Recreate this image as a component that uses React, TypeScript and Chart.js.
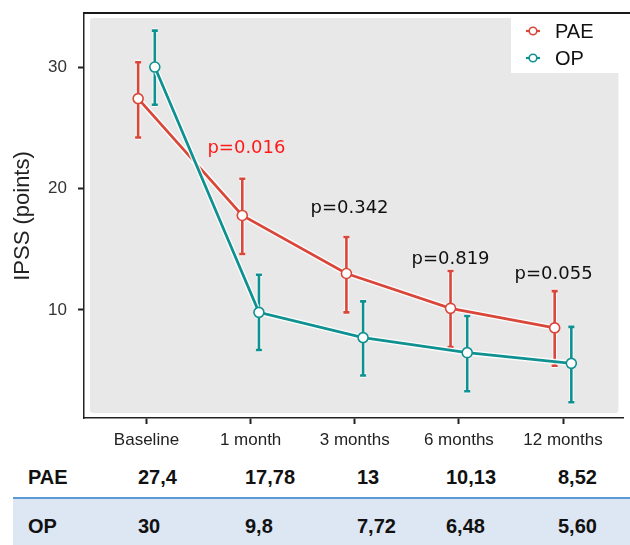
import React, { useEffect, useRef } from 'react';
import { Chart, registerables } from 'chart.js';

Chart.register(...registerables);

const categories = ['Baseline', '1 month', '3 months', '6 months', '12 months'];
const paeMean = [27.4, 17.78, 13, 10.13, 8.52];
const paeUpper = [30.4, 20.8, 16.0, 13.2, 11.55];
const paeLower = [24.2, 14.6, 9.8, 6.95, 5.4];
const opMean = [30, 9.8, 7.72, 6.48, 5.6];
const opUpper = [33.0, 12.9, 10.7, 9.5, 8.6];
const opLower = [26.9, 6.7, 4.6, 3.3, 2.4];
const yTicks = [10, 20, 30];
const seriesNames = ['PAE', 'OP'];
const paeTable = ['27,4', '17,78', '13', '10,13', '8,52'];
const opTable = ['30', '9,8', '7,72', '6,48', '5,60'];
const pLabels = ['p=0.016', 'p=0.342', 'p=0.819', 'p=0.055'];
const pLabelX = [0.96, 1.95, 2.92, 3.91];
const pLabelY = [23.3, 18.4, 14.2, 12.96];
const pLabelColors = ['#ff1a1a', '#111111', '#111111', '#111111'];

const RED = '#d9473b';
const TEAL = '#0f9191';
const OFFSET = 0.08;
const FONT = '"Liberation Sans", Arial, sans-serif';

const tableCols = [138, 245, 357, 446, 558];

function pts(vals: number[], off: number) {
  return vals.map((v, i) => ({ x: i + off, y: v }));
}

const decor = {
  id: 'decor',
  beforeDatasetsDraw(chart: any) {
    const { ctx, chartArea: a, scales } = chart;
    const x = scales.x;
    const y = scales.y;
    ctx.save();
    ctx.fillStyle = '#e8e8e8';
    const l = a.left + 6, t = a.top + 5, r = a.right - 5, b = a.bottom - 5;
    ctx.beginPath();
    if (ctx.roundRect) ctx.roundRect(l, t, r - l, b - t, 3);
    else ctx.rect(l, t, r - l, b - t);
    ctx.fill();
    const series = [
      { lo: paeLower, hi: paeUpper, off: -OFFSET, color: RED },
      { lo: opLower, hi: opUpper, off: OFFSET, color: TEAL },
    ];
    for (const s of series) {
      for (let i = 0; i < s.lo.length; i++) {
        const px = x.getPixelForValue(i + s.off);
        const y1 = y.getPixelForValue(s.hi[i]);
        const y2 = y.getPixelForValue(s.lo[i]);
        const pass = [
          { c: 'rgba(255,255,255,0.8)', w: 4.5 },
          { c: s.color, w: 2.6 },
        ];
        for (const p of pass) {
          ctx.strokeStyle = p.c;
          ctx.lineWidth = p.w;
          ctx.beginPath();
          ctx.moveTo(px, y1);
          ctx.lineTo(px, y2);
          ctx.moveTo(px - 3, y1);
          ctx.lineTo(px + 3, y1);
          ctx.moveTo(px - 3, y2);
          ctx.lineTo(px + 3, y2);
          ctx.stroke();
        }
      }
    }
    ctx.restore();
  },
  afterDatasetsDraw(chart: any) {
    const { ctx, chartArea: a, scales } = chart;
    const x = scales.x;
    const y = scales.y;
    ctx.save();
    ctx.font = '18px "DejaVu Sans", sans-serif';
    ctx.textAlign = 'center';
    ctx.textBaseline = 'middle';
    pLabels.forEach((txt, i) => {
      ctx.fillStyle = pLabelColors[i];
      ctx.fillText(txt, x.getPixelForValue(pLabelX[i]), y.getPixelForValue(pLabelY[i]));
    });
    ctx.fillStyle = '#ffffff';
    ctx.fillRect(511, a.top + 2, chart.width - 511, 58);
    const legendColors = [RED, TEAL];
    seriesNames.forEach((name, i) => {
      const cy = a.top + 18 + i * 27;
      const cx = 533;
      ctx.strokeStyle = legendColors[i];
      ctx.lineWidth = 2.2;
      ctx.beginPath();
      ctx.moveTo(cx - 7, cy);
      ctx.lineTo(cx + 7, cy);
      ctx.stroke();
      ctx.fillStyle = '#fff';
      ctx.lineWidth = 1.6;
      ctx.beginPath();
      ctx.arc(cx, cy, 3.8, 0, Math.PI * 2);
      ctx.fill();
      ctx.stroke();
      ctx.fillStyle = '#111';
      ctx.font = '20px ' + FONT;
      ctx.textAlign = 'left';
      ctx.textBaseline = 'middle';
      ctx.fillText(name, 555, cy + 1);
    });
    ctx.restore();
  },
  afterDraw(chart: any) {
    const { ctx, chartArea: a } = chart;
    ctx.save();
    ctx.fillStyle = '#1a1a1a';
    ctx.fillRect(a.left - 1, a.top - 1, 630 - a.left + 1, 2);
    ctx.translate(23, 216);
    ctx.rotate(-Math.PI / 2);
    ctx.fillStyle = '#222';
    ctx.font = '22px ' + FONT;
    ctx.textAlign = 'center';
    ctx.textBaseline = 'middle';
    ctx.fillText('IPSS (points)', 0, 0);
    ctx.restore();
  },
};

export default function App() {
  const ref = useRef<HTMLCanvasElement>(null);
  useEffect(() => {
    document.body.style.margin = '0';
    if (!ref.current) return;
    const chart = new Chart(ref.current, {
      type: 'line',
      data: {
        datasets: [
          { label: 'OP', data: pts(opMean, OFFSET), borderColor: TEAL, borderWidth: 2.8, pointRadius: 5, pointBorderWidth: 1.6, pointBackgroundColor: '#fff', pointBorderColor: TEAL, order: 1 },
          { label: 'OP halo', data: pts(opMean, OFFSET), borderColor: 'rgba(255,255,255,0.9)', borderWidth: 5.5, pointRadius: 0, order: 2 },
          { label: 'PAE', data: pts(paeMean, -OFFSET), borderColor: RED, borderWidth: 2.8, pointRadius: 5, pointBorderWidth: 1.6, pointBackgroundColor: '#fff', pointBorderColor: RED, order: 3 },
          { label: 'PAE halo', data: pts(paeMean, -OFFSET), borderColor: 'rgba(255,255,255,0.9)', borderWidth: 5.5, pointRadius: 0, order: 4 },
        ],
      },
      options: {
        responsive: false,
        animation: false,
        layout: { padding: { top: 13, right: 0, left: 0, bottom: 0 } },
        plugins: { legend: { display: false }, tooltip: { enabled: false } },
        scales: {
          x: {
            type: 'linear',
            min: -0.6,
            max: 4.58,
            afterBuildTicks: (s: any) => {
              s.ticks = categories.map((_, i) => ({ value: i }));
            },
            afterFit: (s: any) => {
              s.height = 37;
              s.paddingLeft = 0;
              s.paddingRight = 0;
            },
            ticks: {
              callback: (v: any) => categories[v as number],
              color: '#222',
              font: { family: FONT, size: 17 },
              padding: 6,
              maxRotation: 0,
              autoSkip: false,
            },
            grid: { drawOnChartArea: false, drawTicks: true, tickLength: 6, tickWidth: 2, color: '#222' },
            border: { display: true, color: '#222', width: 1.5 },
          },
          y: {
            min: 1.1,
            max: 34.45,
            afterBuildTicks: (s: any) => {
              s.ticks = yTicks.map((v) => ({ value: v }));
            },
            afterFit: (s: any) => {
              s.width = 84;
              s.paddingTop = 0;
              s.paddingBottom = 0;
            },
            ticks: { color: '#333', font: { family: FONT, size: 17 }, padding: 11 },
            grid: { drawOnChartArea: false, drawTicks: true, tickLength: 6, tickWidth: 2, color: '#222' },
            border: { display: true, color: '#222', width: 1.5 },
          },
        },
      },
      plugins: [decor],
    } as any);
    return () => chart.destroy();
  }, []);

  const rowText = (top: number, label: string, vals: string[]) => (
    <div style={{ position: 'absolute', left: 0, top, width: 630, height: 24 }}>
      <span style={{ position: 'absolute', left: 28, top: 0, lineHeight: '24px' }}>{label}</span>
      {vals.map((v, i) => (
        <span key={i} style={{ position: 'absolute', left: tableCols[i], top: 0, lineHeight: '24px' }}>
          {v}
        </span>
      ))}
    </div>
  );

  return (
    <div style={{ position: 'relative', width: 630, height: 545, overflow: 'hidden', background: '#fff' }}>
      <canvas ref={ref} width={630} height={455} style={{ position: 'absolute', left: 0, top: 0, width: 630, height: 455 }} />
      <div style={{ position: 'absolute', left: 13, top: 497, width: 617, height: 2, background: '#5b9bd5' }} />
      <div style={{ position: 'absolute', left: 13, top: 499, width: 617, height: 46, background: '#dde7f3' }} />
      <div style={{ fontFamily: FONT, fontWeight: 'bold', fontSize: 20, color: '#111' }}>
        {rowText(465, seriesNames[0], paeTable)}
        {rowText(514, seriesNames[1], opTable)}
      </div>
    </div>
  );
}
